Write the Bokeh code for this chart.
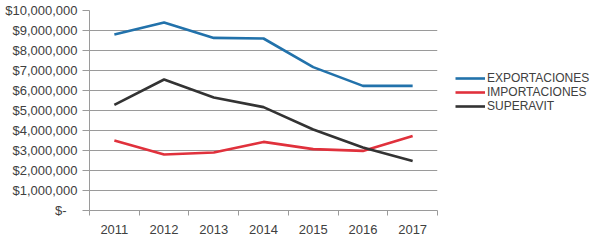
from bokeh.plotting import figure
from bokeh.models import FixedTicker, Legend, LegendItem
from bokeh.embed import file_html
from bokeh.resources import INLINE

years = [2011, 2012, 2013, 2014, 2015, 2016, 2017]
exportaciones = [8800000, 9400000, 8630000, 8600000, 7170000, 6230000, 6230000]
importaciones = [3500000, 2800000, 2900000, 3430000, 3070000, 2980000, 3730000]
superavit = [5280000, 6550000, 5650000, 5170000, 4050000, 3150000, 2470000]
series_names = ["EXPORTACIONES", "IMPORTACIONES", "SUPERAVIT"]
series_colors = ["#2272AB", "#E0313C", "#333333"]
y_ticks = [0, 1000000, 2000000, 3000000, 4000000, 5000000, 6000000, 7000000, 8000000, 9000000, 10000000]
y_labels = ["$-\u00a0\u00a0\u00a0", "$1,000,000", "$2,000,000", "$3,000,000", "$4,000,000", "$5,000,000",
            "$6,000,000", "$7,000,000", "$8,000,000", "$9,000,000", "$10,000,000"]

FONT = "Liberation Sans"
TXT = "#404040"
GRID = "#9a9a9a"

p = figure(frame_width=348, frame_height=200, output_backend="svg", toolbar_location=None,
           x_range=(years[0] - 0.5, years[-1] + 0.5), y_range=(0, 10000000),
           min_border_left=89, min_border_right=0, min_border_top=10, min_border_bottom=31)
p.outline_line_color = None
p.background_fill_color = "white"
p.border_fill_color = "white"

# x axis
p.xaxis.ticker = FixedTicker(ticks=years, minor_ticks=[y - 0.5 for y in years] + [years[-1] + 0.5])
p.xaxis.major_label_overrides = {y: str(y) for y in years}
p.xaxis.major_tick_out = 0
p.xaxis.major_tick_in = 0
p.xaxis.minor_tick_out = 5
p.xaxis.minor_tick_in = 0
p.xaxis.minor_tick_line_color = GRID
p.xaxis.axis_line_color = GRID
p.xaxis.major_label_standoff = 9
p.xaxis.major_label_text_font = FONT
p.xaxis.major_label_text_font_size = "13px"
p.xaxis.major_label_text_color = TXT
p.xgrid.visible = False

# y axis
p.yaxis.ticker = FixedTicker(ticks=y_ticks, minor_ticks=[])
p.yaxis.major_label_overrides = {t: l for t, l in zip(y_ticks, y_labels)}
p.yaxis.major_tick_out = 7
p.yaxis.major_tick_in = 0
p.yaxis.major_tick_line_color = GRID
p.yaxis.axis_line_color = GRID
p.yaxis.major_label_standoff = 5
p.yaxis.major_label_text_font = FONT
p.yaxis.major_label_text_font_size = "13px"
p.yaxis.major_label_text_color = TXT
p.ygrid.grid_line_color = GRID
p.ygrid.grid_line_width = 1

items = []
for name, vals, col in zip(series_names, [exportaciones, importaciones, superavit], series_colors):
    r = p.line(years, vals, line_color=col, line_width=2.6)
    items.append(LegendItem(label=name, renderers=[r]))

legend = Legend(items=items, location=(18, 97))
legend.glyph_width = 30
legend.glyph_height = 12
legend.label_height = 12
legend.spacing = -1
legend.padding = 0
legend.margin = 0
legend.label_standoff = 2
legend.label_text_line_height = 1.0
legend.border_line_color = None
legend.background_fill_alpha = 0
legend.label_text_font = FONT
legend.label_text_font_size = "12px"
legend.label_text_color = TXT
p.add_layout(legend, "right")

open("out.html", "w").write(file_html(p, INLINE))
